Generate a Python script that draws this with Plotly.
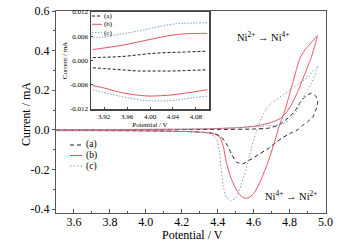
import plotly.graph_objects as go

# ---------------- main CV data (potential V, current mA) ----------------
a_v = [3.50, 4.00, 4.40, 4.60, 4.68, 4.74, 4.80, 4.83, 4.856, 4.89, 4.92, 4.945, 4.957,
       4.95, 4.93, 4.90, 4.875, 4.845, 4.81, 4.754, 4.68, 4.606, 4.54, 4.504, 4.476,
       4.448, 4.42, 4.383, 4.27, 4.00, 3.50]
a_i = [0.000, 0.001, 0.002, 0.004, 0.008, 0.024, 0.066, 0.095, 0.134, 0.170, 0.185, 0.172, 0.142,
       0.110, 0.066, 0.040, 0.024, 0.000, -0.015, -0.044, -0.095, -0.137, -0.171, -0.163, -0.120,
       -0.070, -0.036, -0.019, -0.010, -0.005, -0.003]

b_v = [3.50, 4.00, 4.30, 4.50, 4.60, 4.65, 4.70, 4.75, 4.78, 4.81, 4.846, 4.883, 4.92, 4.948, 4.955,
       4.93, 4.90, 4.875, 4.855, 4.837, 4.82, 4.80, 4.78, 4.76, 4.744, 4.717, 4.68, 4.643, 4.606,
       4.58, 4.559, 4.535, 4.513, 4.476, 4.448, 4.43, 4.411, 4.374, 4.272, 4.00, 3.50]
b_i = [0.000, 0.002, 0.004, 0.010, 0.018, 0.026, 0.038, 0.058, 0.085, 0.126, 0.193, 0.278, 0.363, 0.448, 0.475,
       0.450, 0.420, 0.390, 0.355, 0.300, 0.245, 0.180, 0.115, 0.060, 0.024, -0.061, -0.163, -0.248, -0.316,
       -0.338, -0.347, -0.338, -0.316, -0.248, -0.163, -0.078, -0.036, -0.019, -0.010, -0.005, -0.004]

c_v = [3.50, 4.00, 4.30, 4.50, 4.60, 4.70, 4.76, 4.80, 4.837, 4.874, 4.92, 4.948, 4.957,
       4.90, 4.856, 4.80, 4.763, 4.70, 4.67, 4.643, 4.615, 4.587, 4.559, 4.53, 4.504, 4.476,
       4.448, 4.43, 4.42, 4.41, 4.393, 4.356, 4.27, 4.00, 3.50]
c_i = [0.000, 0.003, 0.005, 0.010, 0.015, 0.022, 0.030, 0.050, 0.090, 0.160, 0.230, 0.295, 0.320,
       0.265, 0.236, 0.200, 0.176, 0.135, 0.105, 0.058, -0.010, -0.095, -0.197, -0.280, -0.340, -0.358,
       -0.340, -0.280, -0.197, -0.110, -0.044, -0.019, -0.010, -0.005, -0.004]

# ---------------- inset data ----------------
in_v = [3.90, 3.92, 3.94, 3.96, 3.98, 4.00, 4.02, 4.04, 4.06, 4.08, 4.10]
in_a_up = [0.0007, 0.0008, 0.0009, 0.0011, 0.0014, 0.0017, 0.0019, 0.0020, 0.0021, 0.0022, 0.0023]
in_a_dn = [-0.0018, -0.0020, -0.0022, -0.0024, -0.0026, -0.0026, -0.0026, -0.0026, -0.0025, -0.0024, -0.0023]
in_b_up = [0.0027, 0.0031, 0.0035, 0.0040, 0.0046, 0.0052, 0.0058, 0.0063, 0.0066, 0.0067, 0.0067]
in_b_dn = [-0.0062, -0.0068, -0.0076, -0.0082, -0.0086, -0.0088, -0.0087, -0.0085, -0.0081, -0.0077, -0.0072]
in_c_up = [0.0056, 0.0058, 0.0063, 0.0068, 0.0073, 0.0079, 0.0085, 0.0090, 0.0092, 0.0093, 0.0093]
in_c_dn = [-0.0073, -0.0079, -0.0086, -0.0092, -0.0097, -0.0100, -0.0100, -0.0099, -0.0095, -0.0091, -0.0088]

# ---------------- ticks / labels ----------------
x_ticks = [3.6, 3.8, 4.0, 4.2, 4.4, 4.6, 4.8, 5.0]
x_ticktext = ["3.6", "3.8", "4.0", "4.2", "4.4", "4.6", "4.8", "5.0"]
y_ticks = [-0.4, -0.2, 0.0, 0.2, 0.4, 0.6]
y_ticktext = ["-0.4", "-0.2", "0.0", "0.2", "0.4", "0.6"]
ix_ticks = [3.92, 3.96, 4.00, 4.04, 4.08]
ix_ticktext = ["3.92", "3.96", "4.00", "4.04", "4.08"]
iy_ticks = [-0.012, -0.006, 0.0, 0.006, 0.012]
iy_ticktext = ["-0.012", "-0.006", "0.000", "0.006", "0.012"]
series_names = ["(a)", "(b)", "(c)"]

BLACK = "#1a1a1a"
RED = "#e4545c"
BLUE = "#7f9fd0"
FONT = "Times New Roman, Liberation Serif, Times, serif"
styles = [(BLACK, "4px,3px"), (RED, "solid"), (BLUE, "1.5px,2px")]

fig = go.Figure()

for (v, i), (col, dash) in zip([(a_v, a_i), (b_v, b_i), (c_v, c_i)], styles):
    fig.add_trace(go.Scatter(x=v, y=i, mode="lines", showlegend=False,
                             line=dict(color=col, width=1, dash=dash, shape="spline", smoothing=0.5),
                             xaxis="x", yaxis="y", hoverinfo="skip"))

inset_styles = [(BLACK, "3px,2px"), (RED, "solid"), (BLUE, "1.5px,1.5px")]
for (up, dn), (col, dash) in zip([(in_a_up, in_a_dn), (in_b_up, in_b_dn), (in_c_up, in_c_dn)], inset_styles):
    for arr in (up, dn):
        fig.add_trace(go.Scatter(x=in_v, y=arr, mode="lines", showlegend=False,
                                 line=dict(color=col, width=1, dash=dash, shape="spline"),
                                 xaxis="x2", yaxis="y2", hoverinfo="skip"))

W, H = 360, 243
L, R, T, B = 56, 34, 11, 30
pw, ph = W - L - R, H - T - B
def px(x): return (x - L) / pw
def py(y): return (H - B - y) / ph

shapes = []
annotations = []
# main legend
for k, (name, (col, dash)) in enumerate(zip(series_names, styles)):
    yy = py(145 + k * 10.5)
    shapes.append(dict(type="line", xref="paper", yref="paper", x0=px(70), x1=px(82), y0=yy, y1=yy,
                       line=dict(color=col, width=1, dash=dash)))
    annotations.append(dict(xref="paper", yref="paper", x=px(85), y=yy, text=name, showarrow=False,
                            xanchor="left", yanchor="middle", borderpad=0,
                            font=dict(family=FONT, size=9.5, color="black")))
# inset legend
for k, (name, (col, dash)) in enumerate(zip(series_names, inset_styles)):
    yy = py(16 + k * 8.3)
    shapes.append(dict(type="line", xref="paper", yref="paper", x0=px(92), x1=px(102), y0=yy, y1=yy,
                       line=dict(color=col, width=1, dash=dash)))
    annotations.append(dict(xref="paper", yref="paper", x=px(102.5), y=yy, text=name, showarrow=False,
                            xanchor="left", yanchor="middle", borderpad=0,
                            font=dict(family=FONT, size=7, color="black")))

annotations.append(dict(x=4.655, y=0.47, xref="x", yref="y", showarrow=False,
                        text="Ni<sup>2+</sup> \u2192 Ni<sup>4+</sup>",
                        font=dict(family=FONT, size=10.5, color="black")))
annotations.append(dict(x=4.81, y=-0.33, xref="x", yref="y", showarrow=False,
                        text="Ni<sup>4+</sup> \u2192 Ni<sup>2+</sup>",
                        font=dict(family=FONT, size=10.5, color="black")))
# axis titles
annotations.append(dict(xref="paper", yref="paper", x=px(26), y=py(114), text="Current / mA",
                        textangle=-90, showarrow=False, xanchor="center", yanchor="middle", borderpad=0,
                        font=dict(family=FONT, size=12, color="black")))
annotations.append(dict(xref="paper", yref="paper", x=px(192), y=py(235), text="Potential / V",
                        showarrow=False, xanchor="center", yanchor="middle", borderpad=0,
                        font=dict(family=FONT, size=12, color="black")))

axis_line = dict(showline=True, linecolor="#555555", linewidth=1, mirror=True, showgrid=False,
                 zeroline=False, automargin=False)

fig.update_layout(
    width=W, height=H,
    margin=dict(l=L, r=R, t=T, b=B, autoexpand=False),
    paper_bgcolor="white", plot_bgcolor="white",
    font=dict(family=FONT, color="black"),
    shapes=shapes, annotations=annotations,
    xaxis=dict(domain=[0, 1], range=[3.5, 5.003], tickvals=x_ticks, ticktext=x_ticktext,
               ticks="inside", ticklen=4, tickcolor="#555555", ticklabelstandoff=-2,
               minor=dict(dtick=0.1, tick0=3.5, ticks="inside", ticklen=2, tickcolor="#555555"),
               tickfont=dict(size=12), anchor="y", **axis_line),
    yaxis=dict(domain=[0, 1], range=[-0.42, 0.6], tickvals=y_ticks, ticktext=y_ticktext,
               ticks="outside", ticklen=3, tickcolor="#555555",
               minor=dict(dtick=0.1, tick0=0, ticks="outside", ticklen=2, tickcolor="#555555"),
               tickfont=dict(size=12), anchor="x", **axis_line),
    xaxis2=dict(domain=[px(91), px(209)], range=[3.897, 4.103], tickvals=ix_ticks, ticktext=ix_ticktext,
                ticks="inside", ticklen=2, tickcolor="#444444",
                tickfont=dict(size=7), title=dict(text="Potential / V", font=dict(size=7), standoff=1),
                anchor="y2", showline=True, linecolor="#444444", linewidth=1.5, mirror=True,
                showgrid=False, zeroline=False, automargin=False),
    yaxis2=dict(domain=[py(109), py(12)], range=[-0.012, 0.012], tickvals=iy_ticks, ticktext=iy_ticktext,
                ticks="inside", ticklen=2, tickcolor="#444444",
                tickfont=dict(size=7), title=dict(text="Current / mA", font=dict(size=7), standoff=1),
                anchor="x2", showline=True, linecolor="#444444", linewidth=1.5, mirror=True,
                showgrid=False, zeroline=False, automargin=False),
)

fig.write_html("out.html", config={"displayModeBar": False, "staticPlot": True},
               post_script="document.body.style.margin='0';document.body.style.padding='0';"
                           "document.documentElement.style.overflow='hidden';")
